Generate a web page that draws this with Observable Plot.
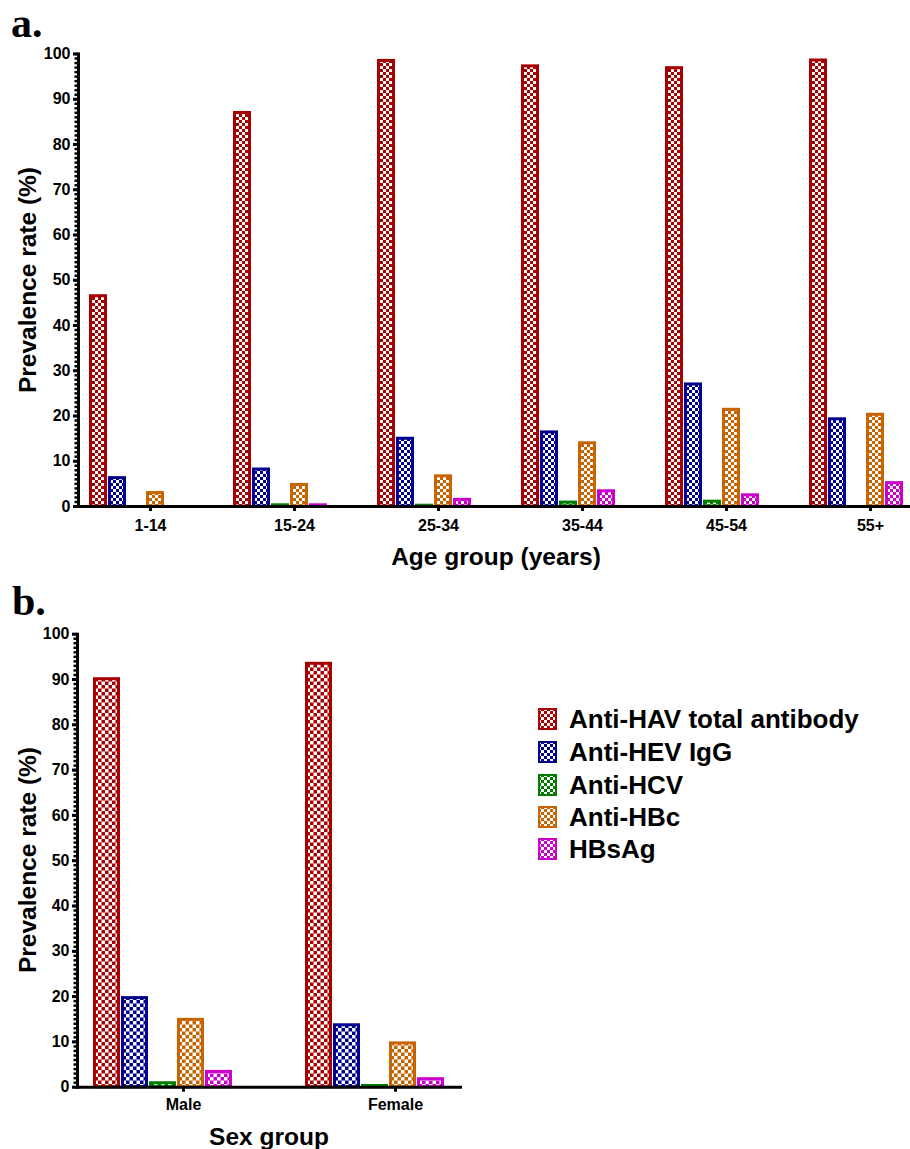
<!DOCTYPE html>
<html>
<head>
<meta charset="utf-8">
<script src="https://cdn.jsdelivr.net/npm/d3@7"></script>
<script src="https://cdn.jsdelivr.net/npm/@observablehq/plot@0.6"></script>
<style>
html, body { margin: 0; padding: 0; background: #fff; overflow: hidden; }
#root { position: relative; width: 910px; height: 1149px; font-family: "Liberation Sans", Arial, Helvetica, sans-serif; color: #000; }
.abs { position: absolute; }
.letter { font-family: "Liberation Serif", "Times New Roman", serif; font-weight: bold; font-size: 42px; line-height: 42px; white-space: nowrap; }
.title { font-weight: bold; font-size: 24.5px; line-height: 25px; white-space: nowrap; transform: translate(-50%, -50%); }
.ytitle { transform: translate(-50%, -50%) rotate(-90deg); }
.legrow { position: absolute; left: 538px; height: 26px; display: flex; align-items: center; transform: translateY(-50%); }
.legrow span { font-weight: bold; font-size: 26px; line-height: 26px; margin-left: 12px; white-space: nowrap; }
</style>
</head>
<body>
<div id="root"></div>
<script>
// ---------------- data ----------------
const ageGroups = ["1-14", "15-24", "25-34", "35-44", "45-54", "55+"];
const sexGroups = ["Male", "Female"];
const markers = ["Anti-HAV total antibody", "Anti-HEV IgG", "Anti-HCV", "Anti-HBc", "HBsAg"];
const markerColors = ["#a80000", "#000090", "#007d00", "#c86400", "#cc00cc"];

// panel a: prevalence (%) by age group
const ageAntiHAV = [46.8, 87.3, 98.8, 97.6, 97.2, 98.9];
const ageAntiHEV = [6.6, 8.5, 15.3, 16.7, 27.3, 19.6];
const ageAntiHCV = [0, 0.6, 0.5, 1.2, 1.4, 0];
const ageAntiHBc = [3.3, 5.1, 7.0, 14.3, 21.7, 20.6];
const ageHBsAg   = [0, 0.6, 1.8, 3.7, 2.8, 5.5];

// panel b: prevalence (%) by sex
const sexAntiHAV = [90.4, 93.8];
const sexAntiHEV = [20.0, 14.0];
const sexAntiHCV = [1.2, 0.6];
const sexAntiHBc = [15.2, 10.0];
const sexHBsAg   = [3.7, 2.1];

const yMajorTicks = d3.range(0, 101, 10);
const yMinorTicks = d3.range(0, 101, 1);

function rows(groups, series) {
  return groups.flatMap((g, i) => markers.map((m, j) => ({group: g, marker: m, value: series[j][i]})));
}
const ageData = rows(ageGroups, [ageAntiHAV, ageAntiHEV, ageAntiHCV, ageAntiHBc, ageHBsAg]);
const sexData = rows(sexGroups, [sexAntiHAV, sexAntiHEV, sexAntiHCV, sexAntiHBc, sexHBsAg]);

// ---------------- patterns ----------------
const root = d3.select("#root");
const defs = root.append("svg").attr("width", 0).attr("height", 0)
  .style("position", "absolute").style("left", 0).style("top", 0).append("defs");
function addPatterns(prefix, cell) {
  markerColors.forEach((c, i) => {
    const p = defs.append("pattern").attr("id", prefix + i)
      .attr("patternUnits", "userSpaceOnUse").attr("width", cell * 2).attr("height", cell * 2);
    p.append("rect").attr("width", cell * 2).attr("height", cell * 2).attr("fill", c);
    p.append("rect").attr("width", cell).attr("height", cell).attr("fill", "#fff");
    p.append("rect").attr("x", cell).attr("y", cell).attr("width", cell).attr("height", cell).attr("fill", "#fff");
  });
}
addPatterns("pa", 3);
addPatterns("pb", 3.5);
addPatterns("pl", 3);

// ---------------- panels ----------------
function panel(o) {
  const bars = markers.map((m, j) => Plot.barY(
    o.data.filter(d => d.marker === m && d.value > 0),
    {fx: "group", x: "marker", y: "value", fill: `url(#${o.prefix}${j})`,
     stroke: markerColors[j], strokeWidth: 3, insetLeft: 1.5, insetRight: 1.5, insetTop: 1.5}
  ));
  return Plot.plot({
    width: o.width, height: o.height,
    marginLeft: o.marginLeft, marginRight: o.marginRight, marginTop: o.marginTop, marginBottom: o.marginBottom,
    style: {fontFamily: '"Liberation Sans", Arial, Helvetica, sans-serif', fontWeight: "bold", fontSize: "16px",
            color: "#000", background: "transparent", overflow: "hidden"},
    fx: {domain: o.groups, paddingInner: 0, paddingOuter: 0, axis: null, label: null},
    x: {domain: markers, paddingInner: o.pi, paddingOuter: o.po, align: o.align, axis: null},
    y: {domain: [0, 100], axis: null},
    marks: [
      ...bars,
      Plot.ruleY([0], {stroke: "#000", strokeWidth: 3}),
      Plot.frame({anchor: "left", facetAnchor: "left", stroke: "#000", strokeWidth: 3}),
      Plot.axisY({ticks: yMinorTicks, tickSize: 3.5, tickFormat: () => "", strokeWidth: 2.5, label: null}),
      Plot.axisY({ticks: yMajorTicks, tickSize: 5, tickPadding: 3, strokeWidth: 3, label: null,
                  fontSize: 16, fontWeight: "bold", fill: "#000"}),
      Plot.axisFx({anchor: "bottom", tickSize: 5, tickPadding: o.tickPadding, strokeWidth: 3, label: null,
                   fontSize: 16, fontWeight: "bold", fill: "#000"})
    ]
  });
}

const plotA = panel({
  data: ageData, groups: ageGroups, prefix: "pa",
  width: 910, height: 545, marginLeft: 76, marginRight: 910 - (76 + 6 * 144.8), marginTop: 53.5, marginBottom: 39,
  pi: 0.06, po: 1.243, align: 0.223, tickPadding: 8
});
const plotB = panel({
  data: sexData, groups: sexGroups, prefix: "pb",
  width: 462, height: 545, marginLeft: 77, marginRight: 462 - (77 + 2 * 212), marginTop: 53.7, marginBottom: 38.3,
  pi: 0.035, po: 1.224, align: 0.214, tickPadding: 6
});

const wrapA = root.append("div").attr("class", "abs").style("left", "0px").style("top", "0px");
wrapA.node().appendChild(plotA);
const wrapB = root.append("div").attr("class", "abs").style("left", "0px").style("top", "580px");
wrapB.node().appendChild(plotB);

// ---------------- text ----------------
root.append("div").attr("class", "abs letter").style("left", "11px").style("top", "2px").text("a.");
root.append("div").attr("class", "abs letter").style("left", "12px").style("top", "580px").text("b.");

root.append("div").attr("class", "abs title").style("left", "496px").style("top", "556px").text("Age group (years)");
root.append("div").attr("class", "abs title").style("left", "269px").style("top", "1136px").text("Sex group");
root.append("div").attr("class", "abs title ytitle").style("left", "27px").style("top", "280px").text("Prevalence rate (%)");
root.append("div").attr("class", "abs title ytitle").style("left", "27px").style("top", "860px").text("Prevalence rate (%)");

// ---------------- legend ----------------
const legendY = [719, 752, 784.5, 817, 849];
markers.forEach((m, i) => {
  const row = root.append("div").attr("class", "legrow").style("top", legendY[i] + "px");
  const s = row.append("svg").attr("width", 19).attr("height", 22);
  s.append("rect").attr("x", 1).attr("y", 1).attr("width", 17).attr("height", 20)
    .attr("fill", `url(#pl${i})`).attr("stroke", markerColors[i]).attr("stroke-width", 2);
  row.append("span").text(m);
});
</script>
</body>
</html>
